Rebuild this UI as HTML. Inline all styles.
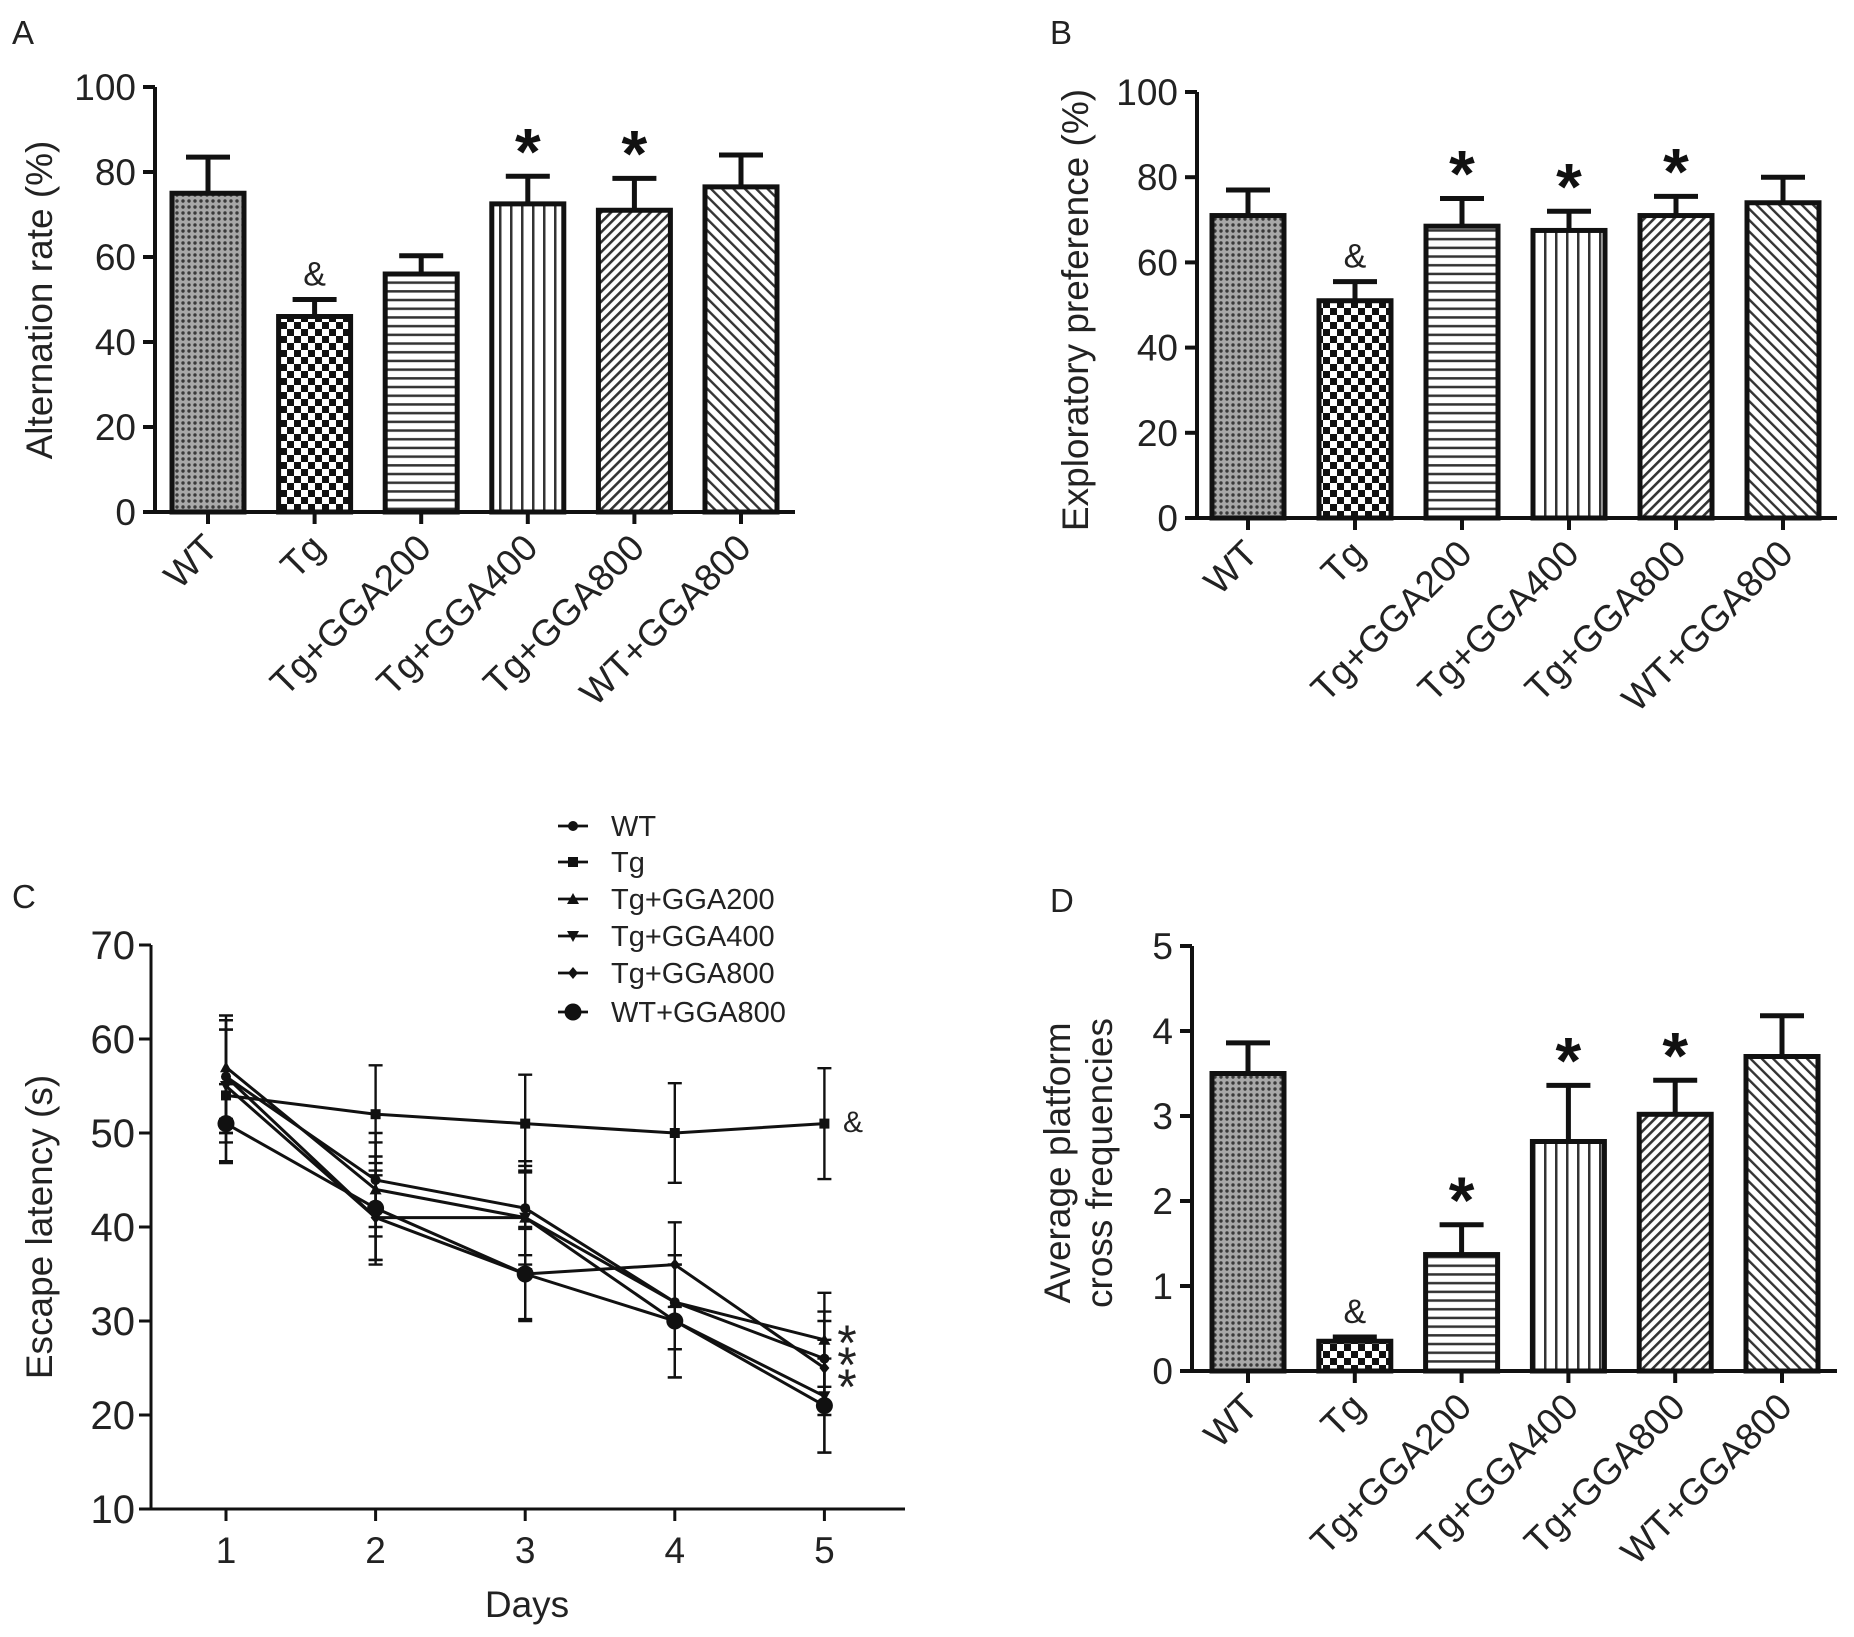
<!DOCTYPE html>
<html><head><meta charset="utf-8"><style>
html,body{margin:0;padding:0;background:#fff;}
svg{display:block;font-family:"Liberation Sans",Arial,sans-serif;}
</style></head><body>
<svg id="fig" width="1854" height="1637" viewBox="0 0 1854 1637" xmlns="http://www.w3.org/2000/svg">
<defs>
<pattern id="p-dots" width="6" height="6" patternUnits="userSpaceOnUse"><rect width="6" height="6" fill="#a8a8a8"/><circle cx="3" cy="3" r="1.7" fill="#3a3a3a"/></pattern>
<pattern id="p-check" width="14" height="14" patternUnits="userSpaceOnUse"><rect width="14" height="14" fill="#fff"/><rect width="7" height="7" fill="#111"/><rect x="7" y="7" width="7" height="7" fill="#111"/></pattern>
<pattern id="p-h" width="9" height="8.7" patternUnits="userSpaceOnUse"><rect width="9" height="8.7" fill="#fff"/><rect y="3" width="9" height="2.5" fill="#333"/></pattern>
<pattern id="p-v" width="11" height="9" patternUnits="userSpaceOnUse"><rect width="11" height="9" fill="#fff"/><rect x="4" width="2.5" height="9" fill="#333"/></pattern>
<pattern id="p-d1" width="7" height="7" patternUnits="userSpaceOnUse" patternTransform="rotate(45)"><rect width="7" height="7" fill="#fff"/><rect width="2.6" height="7" fill="#333"/></pattern>
<pattern id="p-d2" width="8" height="8" patternUnits="userSpaceOnUse" patternTransform="rotate(-45)"><rect width="8" height="8" fill="#fff"/><rect width="2.4" height="8" fill="#333"/></pattern>
</defs>
<g id="root"></g>
</svg>
<script>
// ---- data ----
const categories = ["WT","Tg","Tg+GGA200","Tg+GGA400","Tg+GGA800","WT+GGA800"];
const aValues = [75, 46, 56, 72.5, 71, 76.5];
const aErrors = [8.5, 4, 4.3, 6.5, 7.5, 7.5];
const aMarks = ["", "&", "", "*", "*", ""];
const aTicks = [0,20,40,60,80,100];
const bValues = [71, 51, 68.5, 67.5, 71, 74];
const bErrors = [6, 4.5, 6.5, 4.5, 4.5, 6];
const bMarks = ["", "&", "*", "*", "*", ""];
const bTicks = [0,20,40,60,80,100];
const dValues = [3.5, 0.35, 1.37, 2.7, 3.02, 3.7];
const dErrors = [0.36, 0.05, 0.35, 0.66, 0.4, 0.48];
const dMarks = ["", "&", "*", "*", "*", ""];
const dTicks = [0,1,2,3,4,5];
const days = [1,2,3,4,5];
const cTicks = [10,20,30,40,50,60,70];
const seriesNames = ["WT","Tg","Tg+GGA200","Tg+GGA400","Tg+GGA800","WT+GGA800"];
const sWT = [56, 45, 42, 32, 26];
const sTg = [54, 52, 51, 50, 51];
const sG200 = [57, 44, 41, 32, 28];
const sG400 = [55, 41, 41, 30, 22];
const sG800 = [56, 41, 35, 36, 25];
const sWTG = [51, 42, 35, 30, 21];
const eWT = [6, 5, 5, 5, 5];
const eTg = [7, 5.2, 5.2, 5.3, 5.9];
const eG200 = [5.5, 5, 5.5, 5, 5];
const eG400 = [6, 5, 5, 6, 6];
const eG800 = [6, 4.5, 5, 4.5, 5];
const eWTG = [4.2, 5.5, 4.8, 6, 5];

const NS = "http://www.w3.org/2000/svg";
const root = document.getElementById("root");
function mk(tag, attrs, parent, text){
  const e = document.createElementNS(NS, tag);
  for (const k in attrs) e.setAttribute(k, attrs[k]);
  if (text !== undefined) e.textContent = text;
  (parent || root).appendChild(e);
  return e;
}
const fills = ["url(#p-dots)","url(#p-check)","url(#p-h)","url(#p-v)","url(#p-d1)","url(#p-d2)"];

function barPanel(cfg){
  const g = mk("g", {});
  
  
  const ymin = cfg.ticks[0], ymax = cfg.ticks[cfg.ticks.length-1];
  const y = v => cfg.y0 + (v - ymin) / (ymax - ymin) * (cfg.yTop - cfg.y0);
  const x = i => cfg.x0 + cfg.first + i * cfg.step;
  const L = mk("text", {x: cfg.letterX, y: cfg.letterY, "font-size": 33, fill:"#222"}, g, cfg.letter);
  
  
  cfg.values.forEach((v, i) => {
    const cx = x(i), w = 72;
    const top = y(v), et = y(v + cfg.errors[i]);
    const eb = mk("path", {d:`M${cx} ${top} V${et} M${cx-22} ${et} H${cx+22}`, stroke:"#111", "stroke-width":5, fill:"none"}, g);
    
    
    const r = mk("rect", {x: cx - w/2, y: top, width: w, height: cfg.y0 - top, fill: fills[i], stroke:"#111", "stroke-width":5}, g);
    
    
    const m = cfg.marks[i];
    if (m === "*") {
      const t = mk("text", {x: cx, y: et - 2, "font-size": 66, "font-weight":"bold", "text-anchor":"middle", fill:"#111"}, g, "*");
      
      
    } else if (m === "&") {
      const t = mk("text", {x: cx, y: et - 14, "font-size": 34, "text-anchor":"middle", fill:"#222"}, g, "&");
      
      
    }
    const tk = mk("line", {x1: cx, x2: cx, y1: cfg.y0, y2: cfg.y0 + 12, stroke:"#111", "stroke-width":4}, g);
    
    
    const lab = mk("text", {x: cx + 12, y: cfg.y0 + 38, "font-size": 37, "text-anchor":"end", fill:"#222", transform:`rotate(-45 ${cx+12} ${cfg.y0+38})`}, g, categories[i]);
    
    
  });
  const ax = mk("path", {d:`M${cfg.x0} ${cfg.yTop} V${cfg.y0} H${cfg.xEnd}`, stroke:"#111", "stroke-width":4, fill:"none"}, g);
  
  
  cfg.ticks.forEach(t => {
    const yy = y(t);
    const tl = mk("line", {x1: cfg.x0 - 12, x2: cfg.x0, y1: yy, y2: yy, stroke:"#111", "stroke-width":4}, g);
    
    
    const tt = mk("text", {x: cfg.x0 - 19, y: yy + 13, "font-size": 37, "text-anchor":"end", fill:"#222"}, g, String(t));
    
    
  });
  cfg.title.forEach((line, k) => {
    const tx = cfg.titleX + k * 42, ty = cfg.titleY;
    const t = mk("text", {x: tx, y: ty, "font-size": 37, "text-anchor":"middle", fill:"#222", transform:`rotate(-90 ${tx} ${ty})`}, g, line);
    
    
  });
}

barPanel({name:"panel-a-chart", letter:"A", letterX:12, letterY:44, x0:155, xEnd:795, y0:512, yTop:87, first:53, step:106.6,
  ticks:aTicks, values:aValues, errors:aErrors, marks:aMarks, title:["Alternation rate (%)"], titleX:52, titleY:300});
barPanel({name:"panel-b-chart", letter:"B", letterX:1050, letterY:44, x0:1197, xEnd:1837, y0:518, yTop:92, first:51, step:107,
  ticks:bTicks, values:bValues, errors:bErrors, marks:bMarks, title:["Exploratory preference (%)"], titleX:1088, titleY:310});
barPanel({name:"panel-d-chart", letter:"D", letterX:1050, letterY:912, x0:1192, xEnd:1837, y0:1371, yTop:946, first:56, step:106.8,
  ticks:dTicks, values:dValues, errors:dErrors, marks:dMarks, title:["Average platform","cross frequencies"], titleX:1070, titleY:1163});

(function(){
  const g = mk("g", {});
  
  
  const x0 = 151, xEnd = 905, y0 = 1509, yTop = 945;
  const y = v => y0 + (v - 10) / 60 * (yTop - y0);
  const x = d => 226 + (d - 1) * 149.6;
  const L = mk("text", {x:12, y:908, "font-size":33, fill:"#222"}, g, "C");
  
  
  const ax = mk("path", {d:`M${x0} ${yTop} V${y0} H${xEnd}`, stroke:"#111", "stroke-width":3, fill:"none"}, g);
  
  
  cTicks.forEach(t => {
    const yy = y(t);
    const tl = mk("line", {x1:x0-12, x2:x0, y1:yy, y2:yy, stroke:"#111", "stroke-width":3}, g);
    
    
    const tt = mk("text", {x:x0-16, y:yy+14, "font-size":40, "text-anchor":"end", fill:"#222"}, g, String(t));
    
    
  });
  days.forEach(d => {
    const xx = x(d);
    const tl = mk("line", {x1:xx, x2:xx, y1:y0, y2:y0+12, stroke:"#111", "stroke-width":3}, g);
    
    
    const tt = mk("text", {x:xx, y:y0+54, "font-size":37, "text-anchor":"middle", fill:"#222"}, g, String(d));
    
    
  });
  const xt = mk("text", {x:527, y:1617, "font-size":37, "text-anchor":"middle", fill:"#222"}, g, "Days");
  
  
  const yt = mk("text", {x:52, y:1227, "font-size":37, "text-anchor":"middle", fill:"#222", transform:"rotate(-90 52 1227)"}, g, "Escape latency (s)");
  
  

  const series = [sWT, sTg, sG200, sG400, sG800, sWTG];
  const errs = [eWT, eTg, eG200, eG400, eG800, eWTG];
  const markers = ["circle","square","tri","itri","diamond","bigcircle"];
  function marker(type, cx, cy, parent){
    let e;
    if (type === "circle") e = mk("circle", {cx, cy, r:5, fill:"#111"}, parent);
    else if (type === "bigcircle") e = mk("circle", {cx, cy, r:8.5, fill:"#111"}, parent);
    else if (type === "square") e = mk("rect", {x:cx-5, y:cy-5, width:10, height:10, fill:"#111"}, parent);
    else if (type === "tri") e = mk("path", {d:`M${cx} ${cy-6} L${cx+6} ${cy+5} L${cx-6} ${cy+5}Z`, fill:"#111"}, parent);
    else if (type === "itri") e = mk("path", {d:`M${cx} ${cy+6} L${cx+6} ${cy-5} L${cx-6} ${cy-5}Z`, fill:"#111"}, parent);
    else e = mk("path", {d:`M${cx} ${cy-6} L${cx+5} ${cy} L${cx} ${cy+6} L${cx-5} ${cy}Z`, fill:"#111"}, parent);
    return e;
  }
  series.forEach((s, k) => {
    const sg = mk("g", {}, g);
    
    
    s.forEach((v, i) => {
      const xx = x(days[i]), hi = y(v + errs[k][i]), lo = y(v - errs[k][i]);
      const eb = mk("path", {d:`M${xx} ${hi} V${lo} M${xx-7} ${hi} H${xx+7} M${xx-7} ${lo} H${xx+7}`, stroke:"#111", "stroke-width":2.4, fill:"none"}, sg);
      
      
    });
    const pts = s.map((v, i) => `${x(days[i])},${y(v)}`).join(" ");
    const pl = mk("polyline", {points: pts, stroke:"#111", "stroke-width":3, fill:"none"}, sg);
    
    
    s.forEach((v, i) => {
      const m = marker(markers[k], x(days[i]), y(v), sg);
      
      
    });
  });
  const amp = mk("text", {x:843, y:1132, "font-size":30, fill:"#222"}, g, "&");
  
  
  [1360, 1382, 1404].forEach(yy => {
    const st = mk("text", {x:847, y:yy, "font-size":50, "text-anchor":"middle", fill:"#222"}, g, "*");
    
    
  });
  const lg = mk("g", {}, g);
  
  
  const legY = [826, 862, 899, 936, 973, 1012];
  seriesNames.forEach((n, k) => {
    const eg = mk("g", {}, lg);
    
    
    mk("line", {x1:558, x2:588, y1:legY[k], y2:legY[k], stroke:"#111", "stroke-width":2.8}, eg);
    marker(markers[k], 573, legY[k], eg);
    mk("text", {x:611, y:legY[k]+10, "font-size":29, fill:"#222"}, eg, n);
  });
})();
</script>
</body></html>
